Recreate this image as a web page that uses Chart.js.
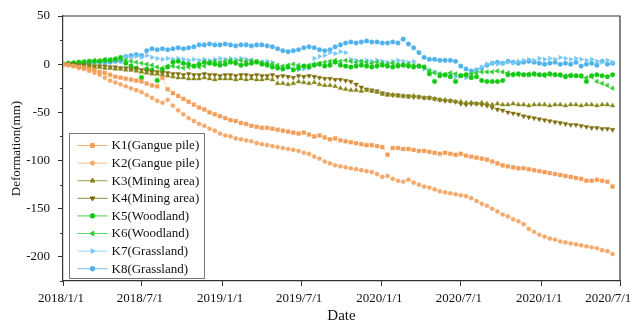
<!DOCTYPE html>
<html>
<head>
<meta charset="utf-8">
<title>Deformation time series</title>
<script src="https://cdn.jsdelivr.net/npm/chart.js@4.4.1/dist/chart.umd.min.js"></script>
<style>
  html, body { margin: 0; padding: 0; background: #fff; }
  canvas { display: block; }
</style>
</head>
<body>
<canvas id="chart" width="634" height="322"></canvas>
<script>
// x axis runs in days from 2018/1/1
const tickDays = [0, 181, 365, 546, 730, 912, 1096, 1277];
const tickLabels = ['2018/1/1', '2018/7/1', '2019/1/1', '2019/7/1', '2020/1/1', '2020/7/1', '2020/1/1', '2020/7/1'];
const yTicks = [50, 0, -50, -100, -150, -200];
const revisit = 12; // days between acquisitions

const names = ['K1(Gangue pile)', 'K2(Gangue pile)', 'K3(Mining area)', 'K4(Mining area)',
  'K5(Woodland)', 'K6(Woodland)', 'K7(Grassland)', 'K8(Grassland)'];

const k1 = [0, -1, -2, -3, -4, -5, -6, -8, -9, -11,
  -13, -14, -15, -16, -17, -18, -20, -22, -23, -14,
  -26, -30, -33, -36, -39, -42, -45, -47, -50, -52,
  -54, -56, -58, -59, -61, -62, -64, -65, -66, -66,
  -67, -68, -69, -70, -71, -72, -71, -73, -75, -74,
  -76, -78, -77, -79, -80, -81, -82, -83, -84, -84,
  -85, -86, -94, -87, -87, -88, -88, -89, -90, -90,
  -91, -92, -93, -92, -93, -94, -93, -95, -96, -97,
  -98, -99, -101, -103, -105, -106, -107, -108, -108, -109,
  -110, -111, -112, -113, -114, -115, -116, -117, -118, -119,
  -121, -121, -120, -121, -122, -127];
const k2 = [0, -1, -2, -4, -5, -7, -9, -11, -14, -17,
  -19, -21, -23, -25, -27, -29, -32, -35, -38, -40,
  -37, -43, -48, -52, -56, -59, -62, -64, -67, -69,
  -72, -74, -75, -77, -78, -79, -80, -82, -83, -84,
  -85, -86, -87, -88, -89, -90, -92, -93, -96, -98,
  -101, -103, -105, -106, -107, -108, -109, -110, -111, -112,
  -114, -117, -116, -119, -121, -122, -120, -123, -125, -127,
  -128, -130, -132, -133, -134, -135, -136, -137, -139, -142,
  -145, -147, -150, -153, -156, -158, -161, -163, -166, -171,
  -174, -177, -179, -181, -182, -184, -185, -186, -187, -188,
  -189, -190, -191, -193, -194, -197];
const k3 = [0, 0, -1, -1, -2, -2, -3, -3, -4, -4,
  -5, -5, -6, -6, -7, -8, -9, -10, -10, -11,
  -12, -13, -14, -14, -15, -15, -15, -14, -15, -16,
  -15, -15, -15, -16, -15, -16, -15, -16, -16, -15,
  -16, -20, -20, -21, -20, -18, -19, -20, -19, -21,
  -22, -22, -23, -25, -26, -27, -27, -28, -27, -28,
  -29, -31, -32, -32, -33, -33, -34, -33, -34, -35,
  -35, -36, -37, -37, -38, -39, -39, -40, -40, -41,
  -40, -41, -42, -41, -42, -42, -41, -42, -42, -43,
  -42, -42, -42, -43, -42, -42, -43, -42, -42, -43,
  -42, -42, -43, -42, -42, -43];
const k4 = [0, 0, 0, -1, -1, -1, -2, -2, -2, -3,
  -3, -4, -4, -5, -5, -6, -7, -8, -8, -9,
  -9, -10, -10, -11, -10, -11, -11, -10, -11, -11,
  -12, -11, -11, -12, -11, -11, -12, -11, -12, -12,
  -11, -13, -12, -13, -14, -12, -13, -12, -13, -14,
  -15, -15, -16, -16, -17, -18, -21, -24, -26, -27,
  -28, -30, -31, -32, -32, -33, -33, -34, -34, -35,
  -35, -36, -37, -38, -38, -39, -41, -42, -41, -41,
  -42, -43, -45, -47, -48, -50, -51, -52, -54, -55,
  -56, -57, -58, -59, -60, -61, -62, -63, -63, -64,
  -65, -66, -66, -67, -67, -68];
const k5 = [0, 1, 1, 2, 2, 3, 3, 3, 4, 4,
  5, 7, 1, -2, -4, -14, -5, -6, -17, -6,
  -3, 2, 3, 1, 0, -2, 0, 2, 1, 0,
  -1, 0, 2, 1, -1, 0, 1, 2, 0, -1,
  -3, -4, -5, -3, -6, -4, -2, -3, -1, 0,
  -2, -1, 2, -1, -2, -3, -2, -1, -2, -3,
  -2, -1, -2, -3, -2, -1, -2, -3, -2, -3,
  -10, -18, -12, -11, -13, -18, -12, -11, -14, -13,
  -17, -18, -18, -18, -17, -11, -11, -10, -11, -11,
  -10, -11, -11, -10, -11, -11, -13, -12, -12, -12,
  -18, -12, -11, -12, -13, -11];
const k6 = [0, 1, 2, 2, 3, 3, 4, 4, 5, 5,
  6, 5, 4, 3, 2, 1, 0, -1, -3, -4,
  -2, -2, -3, -4, -3, -2, -3, -2, 2, 3,
  2, 3, 4, 3, 4, 3, 4, 3, 2, 1,
  0, -1, -2, -1, 0, -1, -2, -1, 0, 1,
  2, 3, 4, 3, 4, 3, 2, 3, 2, 1,
  2, 1, 0, 1, 0, -1, 0, -1, -2, -3,
  -7, -9, -10, -11, -9, -10, -12, -11, -10, -9,
  -8, -8, -8, -7, -8, -9, -10, -11, -11, -10,
  -11, -11, -12, -11, -11, -12, -12, -11, -12, -13,
  -14, -13, -18, -20, -22, -25];
const k7 = [0, 0, 1, 1, 1, 2, 2, 2, 3, 3,
  4, 4, 8, 7, 8, 7, 9, 7, 6, 5,
  6, 5, 6, 5, 4, 5, 4, 5, 4, 5,
  6, 5, 6, 5, 6, 5, 4, 3, 2, 3,
  2, -4, -5, -4, -5, -6, -5, -4, 6, 8,
  9, 12, 11, 13, 12, 5, 4, 3, 4, 3,
  4, 3, 2, 3, 4, 3, 2, 3, -2, -5,
  -6, -8, -10, -12, -11, -13, -12, -14, -10, -6,
  -3, 0, 1, 0, 1, 2, 1, 3, 4, 5,
  4, 6, 5, 6, 5, 7, 6, 5, 6, 5,
  4, 5, 3, 2, 4, 2];
const k8 = [0, 0, 1, 1, 1, 1, 2, 2, 2, 2,
  3, 3, 8, 9, 10, 9, 14, 16, 15, 16,
  15, 16, 17, 16, 17, 18, 20, 20, 21, 20,
  20, 21, 20, 19, 20, 20, 19, 20, 20, 19,
  18, 16, 14, 13, 14, 15, 17, 18, 17, 15,
  14, 15, 18, 20, 22, 23, 22, 23, 24, 23,
  23, 22, 22, 23, 22, 26, 21, 17, 12, 7,
  5, 5, 4, 4, 4, 3, -2, -5, -7, -6,
  -4, -1, 1, 2, 1, 3, 2, 1, 2, 3,
  2, 1, 0, 1, 2, 0, 1, 0, 2, -2,
  0, 1, -1, 3, 0, 1];

const seriesValues = [k1, k2, k3, k4, k5, k6, k7, k8];
const colors = ['#F29E58', '#F5AA6C', '#86861A', '#7E6C0C', '#14C814', '#34CC34', '#78C8F2', '#50B2EC'];
const markers = [
  { style: 'rect', radius: 2.7, rotation: 0 },
  { style: 'circle', radius: 2.1, rotation: 0 },
  { style: 'triangle', radius: 2.7, rotation: 0 },
  { style: 'triangle', radius: 2.7, rotation: 180 },
  { style: 'circle', radius: 2.3, rotation: 0 },
  { style: 'triangle', radius: 2.7, rotation: 270 },
  { style: 'triangle', radius: 2.7, rotation: 90 },
  { style: 'circle', radius: 2.3, rotation: 0 }
];

const serif = 'Liberation Serif';

function fade(hex, a) {
  const n = parseInt(hex.slice(1), 16);
  return `rgba(${n >> 16},${(n >> 8) & 255},${n & 255},${a})`;
}

const datasets = seriesValues.map((vals, s) => ({
  label: names[s],
  data: vals.map((v, i) => ({ x: i * revisit, y: v })),
  borderColor: fade(colors[s], 0.4),
  borderWidth: 0.8,
  backgroundColor: colors[s],
  pointStyle: markers[s].style,
  pointRadius: markers[s].radius,
  pointRotation: markers[s].rotation,
  pointBackgroundColor: colors[s],
  pointBorderColor: colors[s],
  pointBorderWidth: 0.4,
  tension: 0
}));

// box around the plot plus minor ticks on the y axis
const frame = {
  id: 'frame',
  afterDraw(chart) {
    const { ctx, chartArea: a, scales } = chart;
    ctx.save();
    ctx.strokeStyle = '#333';
    ctx.lineWidth = 1.2;
    ctx.beginPath();
    ctx.moveTo(a.left, a.top);
    ctx.lineTo(a.right, a.top);
    ctx.lineTo(a.right, a.bottom);
    ctx.stroke();
    ctx.lineWidth = 1;
    ctx.beginPath();
    for (let v = -225; v <= 50; v += 25) {
      if (v % 50 === 0) continue;
      const y = Math.round(scales.y.getPixelForValue(v)) + 0.5;
      ctx.moveTo(a.left - 3, y);
      ctx.lineTo(a.left, y);
    }
    ctx.stroke();
    ctx.restore();
  }
};

// legend with line + marker samples, in the lower left of the plot
const legendBox = {
  id: 'legendBox',
  afterDraw(chart) {
    const { ctx, chartArea: a } = chart;
    const bx = a.left + 6.5, by = a.top + 117.5, bw = 135, bh = 145;
    ctx.save();
    ctx.fillStyle = '#fff';
    ctx.fillRect(bx, by, bw, bh);
    ctx.strokeStyle = '#777';
    ctx.lineWidth = 1;
    ctx.strokeRect(bx, by, bw, bh);
    ctx.font = `13px "${serif}"`;
    ctx.textBaseline = 'middle';
    names.forEach((name, s) => {
      const y = by + 12 + s * 17.6;
      ctx.strokeStyle = fade(colors[s], 0.8);
      ctx.lineWidth = 1;
      ctx.beginPath();
      ctx.moveTo(bx + 8, y);
      ctx.lineTo(bx + 38, y);
      ctx.stroke();
      ctx.fillStyle = colors[s];
      ctx.strokeStyle = colors[s];
      const m = markers[s];
      if (Chart.helpers && Chart.helpers.drawPoint) {
        Chart.helpers.drawPoint(ctx, { pointStyle: m.style, radius: m.radius, rotation: m.rotation, borderWidth: 0.4 }, bx + 23, y);
      } else {
        ctx.beginPath();
        ctx.arc(bx + 23, y, m.radius, 0, Math.PI * 2);
        ctx.fill();
      }
      ctx.fillStyle = '#111';
      ctx.fillText(name, bx + 42, y + 0.5);
    });
    ctx.restore();
  }
};

new Chart(document.getElementById('chart'), {
  type: 'line',
  data: { datasets },
  options: {
    responsive: false,
    animation: false,
    devicePixelRatio: 1,
    layout: { padding: { top: 16, right: 14, bottom: 0, left: 0 } },
    plugins: { legend: { display: false }, tooltip: { enabled: false } },
    scales: {
      x: {
        type: 'linear',
        min: 0,
        max: 1277,
        afterBuildTicks: s => { s.ticks = tickDays.map(v => ({ value: v })); },
        afterFit: s => { s.height = 41; s.paddingLeft = 0; s.paddingRight = 0; },
        ticks: {
          // the last label is padded so it stays inside the canvas
          callback: (v, i) => i === tickLabels.length - 1 ? tickLabels[i] + '\u2007\u2007\u2007' : tickLabels[i],
          autoSkip: false,
          maxRotation: 0,
          padding: 5,
          labelOffset: -2,
          color: '#111',
          font: { family: serif, size: 13 }
        },
        grid: { drawOnChartArea: false, tickLength: 5, tickColor: '#333' },
        border: { color: '#333', width: 1.2 },
        title: {
          display: true,
          text: 'Date',
          color: '#111',
          font: { family: serif, size: 15 },
          padding: { top: 0, bottom: -3 }
        }
      },
      y: {
        min: -225,
        max: 50,
        afterBuildTicks: s => { s.ticks = yTicks.map(v => ({ value: v })); },
        afterFit: s => { s.width = 63; },
        ticks: { padding: 8, color: '#111', font: { family: serif, size: 13 } },
        grid: { drawOnChartArea: false, tickLength: 5, tickColor: '#333' },
        border: { color: '#333', width: 1.2 },
        title: {
          display: true,
          text: 'Deformation(mm)',
          color: '#111',
          font: { family: serif, size: 13 },
          padding: { top: 9, bottom: 0 }
        }
      }
    }
  },
  plugins: [frame, legendBox]
});
</script>
</body>
</html>
